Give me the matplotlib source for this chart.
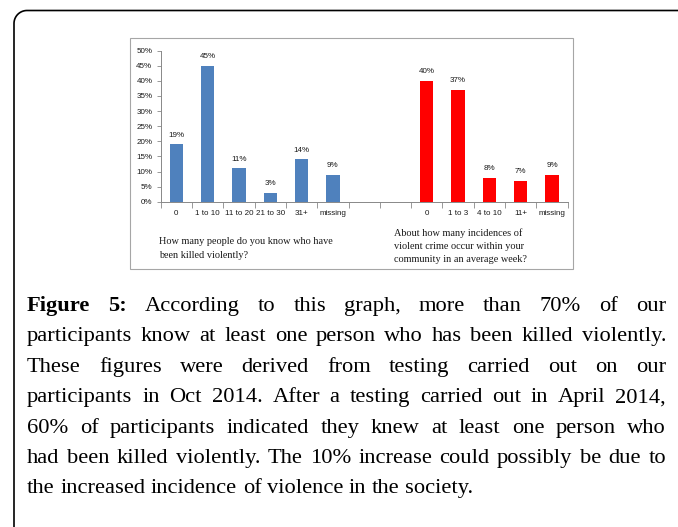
import numpy as np
import matplotlib.pyplot as plt
from matplotlib.path import Path
from matplotlib.patches import PathPatch, Rectangle
from matplotlib.transforms import IdentityTransform
from matplotlib.ticker import PercentFormatter


left_labels = ['0', '1 to 10', '11 to 20', '21 to 30', '31+', 'missing']
left_values = [19, 45, 11, 3, 14, 9]
right_labels = ['0', '1 to 3', '4 to 10', '11+', 'missing']
right_values = [40, 37, 8, 7, 9]

left_question = ["How many people do you know who have", "been killed violently?"]
right_question = ["About how many incidences of", "violent crime occur within your",
                  "community in an average week?"]

caption_lines = [
    "According to this graph, more than 70% of our",
    "participants know at least one person who has been killed violently.",
    "These figures were derived from testing carried out on our",
    "participants in Oct 2014. After a testing carried out in April 2014,",
    "60% of participants indicated they knew at least one person who",
    "had been killed violently. The 10% increase could possibly be due to",
    "the increased incidence of violence in the society.",
]

W, H = 678, 527
fig = plt.figure(figsize=(W / 100, H / 100), dpi=100)

# outer box with rounded top-left corner (pixel coords)
r = 13
x0, ytop = 14, H - 10.5
t = np.linspace(np.pi, np.pi / 2, 20)
verts = [(x0, -5)] + [(x0 + r + r * np.cos(a), ytop - r + r * np.sin(a)) for a in t] + [(W + 5, ytop)]
fig.add_artist(PathPatch(Path(verts), transform=IdentityTransform(), fill=False,
                         edgecolor='black', lw=1.2))

# gray chart frame
fig.add_artist(Rectangle((130 / W, 1 - 269 / H), (573 - 130) / W, (269 - 38) / H,
                         transform=fig.transFigure, fill=False, edgecolor='#a6a6a6', lw=0.8))

ax = fig.add_axes([160.7 / W, 1 - 201.7 / H, (567.6 - 160.7) / W, (201.7 - 50.7) / H])
n_left = len(left_labels)
left_pos = np.arange(n_left) + 0.5
right_pos = np.arange(len(right_labels)) + n_left + 2 + 0.5
ncat = n_left + 2 + len(right_labels)

small = 5.8
bl = ax.bar(left_pos, left_values, width=0.43, color='#4f81bd')
br = ax.bar(right_pos, right_values, width=0.43, color='#ff0000')
for bars, vals in [(bl, left_values), (br, right_values)]:
    for b, v in zip(bars, vals):
        ax.annotate(f"{v}%", (b.get_x() + b.get_width() / 2, v), xytext=(0, 4),
                    textcoords='offset points', ha='center', va='bottom',
                    fontsize=small, family='Liberation Sans', color='#1a1a1a')

ax.set_xlim(0, ncat)
ax.set_ylim(0, 50)
ax.yaxis.set_major_formatter(PercentFormatter(decimals=0))
ax.set_yticks(np.arange(0, 51, 5))
ax.set_xticks(np.arange(0, ncat + 1))
ax.set_xticklabels([])
ax.set_xticks(np.concatenate([left_pos, right_pos]), minor=True)
ax.set_xticklabels(left_labels + right_labels, minor=True)
ax.tick_params(axis='x', which='major', length=4, color='#888888', width=0.6)
ax.tick_params(axis='x', which='minor', length=0, pad=6, labelsize=small, labelcolor='#1a1a1a')
ax.tick_params(axis='y', length=3, color='#888888', width=0.6, labelsize=small,
               labelcolor='#1a1a1a', pad=3)
for lab in ax.get_xticklabels(minor=True) + ax.get_yticklabels():
    lab.set_family('Liberation Sans')
for s in ['top', 'right']:
    ax.spines[s].set_visible(False)
for s in ['left', 'bottom']:
    ax.spines[s].set_color('#888888')
    ax.spines[s].set_linewidth(0.7)

# question texts, one line at a time
for xq, yq, lines in [(159, 244.5, left_question), (394, 235.5, right_question)]:
    for k, s in enumerate(lines):
        fig.text(xq / W, 1 - (yq + 13.5 * k) / H, s, fontsize=7.4, family='Liberation Serif',
                 va='baseline', ha='left', color='#1a1a1a')

# justified caption
fs = 16.2
renderer = fig.canvas.get_renderer()
left_x, right_x = 27, 666
base0, step = 311, 30.4


def width_of(word, bold=False):
    t = fig.text(0, 0, word, fontsize=fs, family='Liberation Serif',
                 weight='bold' if bold else 'normal')
    w = t.get_window_extent(renderer).width
    t.remove()
    return w


for i, line in enumerate(caption_lines):
    words = [(w, False) for w in line.split()]
    if i == 0:
        words = [("Figure", True), ("5:", True)] + words
    widths = [width_of(w, b) for w, b in words]
    if i < len(caption_lines) - 1:
        gap = (right_x - left_x - sum(widths)) / (len(words) - 1)
    else:
        gap = width_of("a b") - width_of("ab")
    x = left_x
    y = 1 - (base0 + i * step) / H
    for (w, b), wd in zip(words, widths):
        fig.text(x / W, y, w, fontsize=fs, family='Liberation Serif',
                 weight='bold' if b else 'normal', va='baseline', ha='left')
        x += wd + gap

fig.savefig('out.png', dpi=100)
